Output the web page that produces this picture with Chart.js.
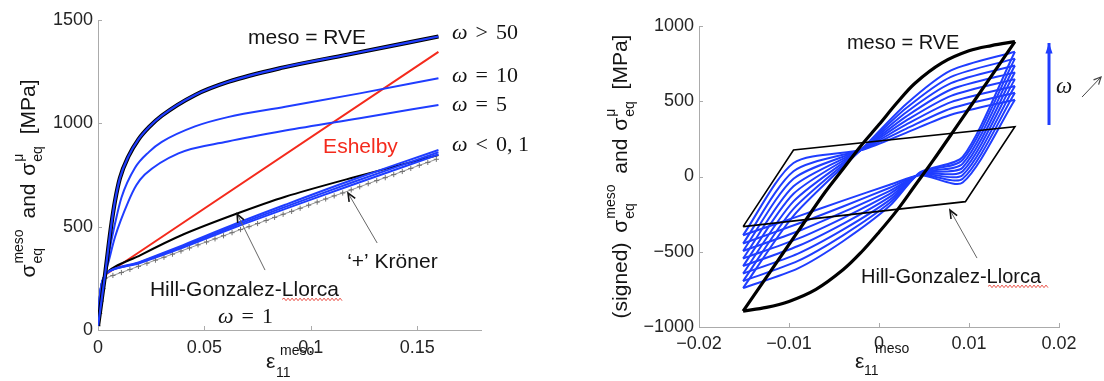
<!DOCTYPE html>
<html><head><meta charset="utf-8">
<script src="https://cdn.jsdelivr.net/npm/chart.js@4.4.0/dist/chart.umd.min.js"></script>
<style>
html,body{margin:0;padding:0;background:#fff;overflow:hidden;}
#wrap{position:relative;width:1104px;height:381px;overflow:hidden;background:#fff;}
.c{position:absolute;top:0;width:552px;height:381px;}
</style></head><body>
<div id="wrap">
<div class="c" style="left:0"><canvas id="cL" width="552" height="381"></canvas></div>
<div class="c" style="left:552px"><canvas id="cR" width="552" height="381"></canvas></div>
</div>
<script>
// ---------------- LEFT PANEL DATA (strain eps11, stress MPa) ----------------
const xTicksL = [0, 0.05, 0.1, 0.15];
const xTickLabelsL = ['0', '0.05', '0.1', '0.15'];
const yTicksL = [0, 500, 1000, 1500];
const yTickLabelsL = ['0', '500', '1000', '1500'];

const rveLX = [0, 0.0033, 0.005, 0.0064, 0.008, 0.0103, 0.0143, 0.019, 0.024, 0.030, 0.0456, 0.0613, 0.087, 0.117, 0.16];
const rveLY = [20, 266, 410, 520, 625, 735, 840, 922, 982, 1037, 1137, 1201, 1270, 1332, 1420];
const w10X = [0, 0.0033, 0.005, 0.008, 0.011, 0.0174, 0.024, 0.030, 0.0456, 0.061, 0.088, 0.123, 0.16];
const w10Y = [20, 266, 365, 515, 640, 785, 862, 910, 985, 1030, 1080, 1145, 1218];
const w5X = [0, 0.0033, 0.005, 0.008, 0.0143, 0.018, 0.022, 0.0378, 0.061, 0.088, 0.123, 0.16];
const w5Y = [20, 266, 332, 450, 622, 700, 752, 855, 912, 965, 1025, 1089];
const eshX = [0, 0.0033, 0.16];
const eshY = [20, 266, 1346];
const lowX = [0, 0.0033, 0.02, 0.04, 0.0644, 0.088, 0.12, 0.16];
const hglLY = [20, 266, 362, 462, 560, 645, 738, 847];
const wSmallY = [20, 266, 331, 411, 513, 606, 728, 871];
const wHalfY = [20, 266, 328, 405, 505, 596, 716, 860];
const w1Y = [20, 266, 325, 399, 497, 586, 704, 849];
const kronX = [0, 0.0008, 0.0016, 0.0024, 0.0033, 0.007, 0.011, 0.015, 0.019, 0.023, 0.027, 0.031, 0.035, 0.039, 0.043, 0.047, 0.051, 0.055, 0.059, 0.063, 0.067, 0.071, 0.075, 0.079, 0.083, 0.087, 0.091, 0.095, 0.099, 0.103, 0.107, 0.111, 0.115, 0.119, 0.123, 0.127, 0.131, 0.135, 0.139, 0.143, 0.147, 0.151, 0.155, 0.159];
const kronY = [20, 80, 140, 200, 250, 264, 278, 293, 308, 323, 338, 352, 367, 382, 397, 412, 426, 441, 456, 471, 486, 500, 515, 530, 545, 560, 574, 589, 604, 619, 634, 649, 663, 678, 693, 708, 723, 737, 752, 767, 782, 797, 811, 826];

// ---------------- RIGHT PANEL DATA ----------------
const xTicksR = [-0.02, -0.01, 0, 0.01, 0.02];
const xTickLabelsR = ['\u22120.02', '\u22120.01', '0', '0.01', '0.02'];
const yTicksR = [-1000, -500, 0, 500, 1000];
const yTickLabelsR = ['\u22121000', '\u2212500', '0', '500', '1000'];

const rveUpX = [-0.0151, -0.012, -0.009, -0.006, -0.004, -0.002, 0, 0.002, 0.004, 0.007, 0.010, 0.0125, 0.0151];
const rveUpY = [-894, -625, -365, -105, 50, 205, 345, 490, 620, 755, 835, 870, 896];
const rveLoX = [0.0151, 0.012, 0.009, 0.006, 0.004, 0.002, 0, -0.002, -0.004, -0.007, -0.010, -0.0125, -0.0151];
const rveLoY = [896, 625, 365, 105, -60, -225, -370, -505, -620, -750, -830, -870, -894];
const hglRX = [-0.0151, -0.0095, 0.0151, 0.0096, -0.0151];
const hglRY = [-333, 176, 331, -167, -333];

const blueUpX = [-0.0151, -0.0095, -0.0017, 0.003, 0.008, 0.0151];
const blueUpY = [
  [-390, 90, 180, 290, 410, 510],
  [-445, 35, 183, 317, 452, 556],
  [-495, -15, 185, 344, 494, 601],
  [-545, -65, 187, 371, 536, 647],
  [-595, -115, 189, 398, 578, 692],
  [-645, -165, 191, 425, 620, 738],
  [-695, -215, 193, 453, 662, 783],
  [-741, -261, 195, 480, 705, 829]
];
const blueLoX = [0.0151, 0.0093, 0.0046, 0.0012, -0.004, -0.009, -0.0151];
const blueLoY = [
  [510, -40, 8, -55, -160, -265, -390],
  [556, -15, 11, -75, -199, -314, -445],
  [601, 10, 14, -95, -237, -364, -495],
  [647, 35, 17, -115, -276, -413, -545],
  [692, 60, 20, -135, -314, -462, -595],
  [738, 85, 23, -155, -353, -512, -645],
  [783, 110, 26, -175, -391, -561, -695],
  [829, 130, 29, -195, -430, -610, -741]
];

// ---------------- STYLE ----------------
const SANS = '"Liberation Sans", Arial, Helvetica, sans-serif';
const SERIF = '"Liberation Serif", "Times New Roman", serif';
const BLUE = '#1f3dff';
const RED = '#f42a1c';
const AXIS = '#ababab';

function pts(xs, ys) { return xs.map((x, i) => ({x: x, y: ys[i]})); }
function line(xs, ys, color, width, order, tension, extra) {
  return Object.assign({data: pts(xs, ys), showLine: true, borderColor: color, backgroundColor: color,
    borderWidth: width, pointRadius: 0, tension: tension || 0, order: order, fill: false}, extra || {});
}

function segW(ctx, s) {
  ctx.font = s.f;
  const w = s.sup !== undefined ? Math.max(ctx.measureText(s.sup).width, ctx.measureText(s.sub).width)
                                : ctx.measureText(s.t).width;
  return w + (s.pre || 0);
}
function drawRich(ctx, x, y, segs, align) {
  const w = segs.reduce((a, s) => a + segW(ctx, s), 0);
  let cx = align === 'center' ? x - w / 2 : (align === 'right' ? x - w : x);
  ctx.textAlign = 'left'; ctx.textBaseline = 'middle';
  segs.forEach(s => {
    const sw = segW(ctx, s);
    cx += (s.pre || 0);
    ctx.font = s.f; ctx.fillStyle = s.c || '#141414';
    if (s.sup !== undefined) { ctx.fillText(s.sup, cx, y + s.up); ctx.fillText(s.sub, cx, y + s.down); }
    else ctx.fillText(s.t, cx, y + (s.dy || 0));
    cx += sw - (s.pre || 0);
  });
}
function drawArrow(ctx, x1, y1, x2, y2, a) {
  ctx.save();
  ctx.strokeStyle = a.color; ctx.fillStyle = a.color; ctx.lineWidth = a.width;
  ctx.beginPath(); ctx.moveTo(x1, y1); ctx.lineTo(x2, y2); ctx.stroke();
  const ang = Math.atan2(y2 - y1, x2 - x1), L = a.head, sp = a.spread;
  ctx.strokeStyle = a.headColor || a.color; ctx.lineWidth = a.headWidth || a.width;
  ctx.beginPath();
  ctx.moveTo(x2 - L * Math.cos(ang - sp), y2 - L * Math.sin(ang - sp));
  ctx.lineTo(x2, y2);
  ctx.lineTo(x2 - L * Math.cos(ang + sp), y2 - L * Math.sin(ang + sp));
  if (a.filled) { ctx.closePath(); ctx.fill(); } else ctx.stroke();
  ctx.restore();
}
function drawWave(ctx, x1, x2, y) {
  ctx.save(); ctx.strokeStyle = '#e8443a'; ctx.lineWidth = 0.9;
  ctx.beginPath(); let up = true; ctx.moveTo(x1, y);
  for (let x = x1 + 2; x <= x2; x += 2) { ctx.lineTo(x, y + (up ? -1.3 : 1.3)); up = !up; }
  ctx.stroke(); ctx.restore();
}

function makeDecor(cfg) {
  return {
    id: 'decor',
    afterDraw(chart) {
      const ctx = chart.ctx, xs = chart.scales.x, ys = chart.scales.y, ca = chart.chartArea;
      const X = v => xs.getPixelForValue(v), Y = v => ys.getPixelForValue(v);
      ctx.save();
      ctx.strokeStyle = AXIS; ctx.lineWidth = 1;
      xs.ticks.forEach(t => { const p = Math.round(X(t.value)) + 0.5; ctx.beginPath(); ctx.moveTo(p, ca.bottom); ctx.lineTo(p, ca.bottom - 4); ctx.stroke(); });
      ys.ticks.forEach(t => { const p = Math.round(Y(t.value)) + 0.5; ctx.beginPath(); ctx.moveTo(ca.left, p); ctx.lineTo(ca.left + 4, p); ctx.stroke(); });
      cfg.arrows.forEach(a => drawArrow(ctx, X(a.x1), Y(a.y1), X(a.x2), Y(a.y2), a));
      cfg.waves.forEach(w => drawWave(ctx, X(w.x1), X(w.x2), Y(w.y)));
      cfg.labels.forEach(l => drawRich(ctx, X(l.x), Y(l.y), l.segs, 'left'));
      const yt = cfg.yTitle;
      ctx.save(); ctx.translate(ca.left + yt.dx, (ca.top + ca.bottom) / 2 + yt.dy); ctx.rotate(-Math.PI / 2);
      drawRich(ctx, 0, 0, yt.segs, 'center'); ctx.restore();
      const xt = cfg.xTitle, bx = ca.left + xt.dx, by = ca.bottom + xt.dy;
      ctx.fillStyle = '#141414'; ctx.textAlign = 'left'; ctx.textBaseline = 'middle';
      ctx.font = '21px ' + SANS; ctx.fillText('\u03b5', bx, by);
      ctx.font = '14px ' + SANS; ctx.fillText('meso', bx + xt.supDx, by + xt.supDy);
      ctx.fillText('11', bx + xt.subDx, by + xt.subDy);
      ctx.restore();
    }
  };
}

const F21 = '21px ' + SANS, F20 = '20px ' + SANS, F14 = '14px ' + SANS;
function omega(rel, num, size) {
  return [{t: '\u03c9', f: 'italic ' + size + 'px ' + SERIF},
          {t: rel, f: size + 'px ' + SERIF, pre: 8},
          {t: num, f: size + 'px ' + SERIF, pre: 8}];
}
function yTitleSegs(prefix) {
  const s = [];
  if (prefix) s.push({t: prefix, f: F21});
  s.push({t: '\u03c3', f: F21, pre: prefix ? 4 : 0});
  s.push({sup: 'meso', sub: 'eq', f: F14, up: -10, down: 9, pre: 1});
  s.push({t: ' and ', f: F21, pre: 5});
  s.push({t: '\u03c3', f: F21, pre: 2});
  s.push({sup: '\u03bc', sub: 'eq', f: F14, up: -10, down: 9, pre: 1});
  s.push({t: ' [MPa]', f: F21, pre: 6});
  return s;
}

function axisOpts(min, max, ticks, labels, fitProp, fitVal, pad) {
  return {
    type: 'linear', min: min, max: max,
    afterFit: s => { s[fitProp] = fitVal; },
    afterBuildTicks: s => { s.ticks = ticks.map(v => ({value: v})); },
    ticks: {callback: (v, i) => labels[i], font: {family: SANS, size: 18}, color: '#242424',
            padding: pad, autoSkip: false, maxRotation: 0, minRotation: 0},
    grid: {display: false, drawTicks: false},
    border: {display: true, color: AXIS, width: 1}
  };
}

// ---------------- LEFT CHART ----------------
const leftDecor = makeDecor({
  labels: [
    {x: 0.0705, y: 1413, segs: [{t: 'meso = RVE', f: F21}]},
    {x: 0.1664, y: 1437, segs: omega('>', '50', 22)},
    {x: 0.1664, y: 1229, segs: omega('=', '10', 22)},
    {x: 0.1664, y: 1089, segs: omega('=', '5', 22)},
    {x: 0.1664, y: 895, segs: omega('<', '0, 1', 22)},
    {x: 0.1058, y: 885, segs: [{t: 'Eshelby', f: F21, c: RED}]},
    {x: 0.1171, y: 329, segs: [{t: '\u2018+\u2019 Kr\u00f6ner', f: F21}]},
    {x: 0.0244, y: 194, segs: [{t: 'Hill-Gonzalez-Llorca', f: F21}]},
    {x: 0.0564, y: 63, segs: omega('=', '1', 22)}
  ],
  arrows: [
    {x1: 0.0785, y1: 290, x2: 0.0654, y2: 561, color: '#666', width: 1, head: 9, spread: 0.4, headColor: '#111', headWidth: 1.6},
    {x1: 0.1312, y1: 421, x2: 0.1175, y2: 663, color: '#666', width: 1, head: 9, spread: 0.4, headColor: '#111', headWidth: 1.6}
  ],
  waves: [{x1: 0.0865, x2: 0.1147, y: 148}],
  yTitle: {dx: -69, dy: 3.5, segs: yTitleSegs('')},
  xTitle: {dx: 168, dy: 32, supDx: 14, supDy: -11, subDx: 10, subDy: 11}
});

new Chart(document.getElementById('cL'), {
  type: 'scatter',
  data: {datasets: [
    line(kronX, kronY, '#959595', 1, 9, 0, {pointRadius: 2.6, pointStyle: 'cross', pointBorderColor: '#707070', pointBorderWidth: 1}),
    line(eshX, eshY, RED, 2, 8),
    line(lowX, hglLY, '#000', 2, 7, 0.3),
    line(lowX, w1Y, BLUE, 2, 6, 0.3),
    line(lowX, wHalfY, BLUE, 2, 5, 0.3),
    line(lowX, wSmallY, BLUE, 2, 4, 0.3),
    line(w5X, w5Y, BLUE, 2, 3, 0, {cubicInterpolationMode: 'monotone'}),
    line(w10X, w10Y, BLUE, 2, 2, 0, {cubicInterpolationMode: 'monotone'}),
    line(rveLX, rveLY, '#000', 4.2, 1, 0, {cubicInterpolationMode: 'monotone'}),
    line(rveLX, rveLY, BLUE, 2.2, 0, 0, {cubicInterpolationMode: 'monotone'})
  ]},
  options: {
    responsive: false, animation: false, events: [],
    layout: {padding: {left: 0, right: 71, top: 20, bottom: 0}},
    plugins: {legend: {display: false}, tooltip: {enabled: false}},
    scales: {
      x: axisOpts(0, 0.18, xTicksL, xTickLabelsL, 'height', 51, 7),
      y: axisOpts(0, 1500, yTicksL, yTickLabelsL, 'width', 98, 5)
    }
  },
  plugins: [leftDecor]
});

// ---------------- RIGHT CHART ----------------
const rightDs = [];
blueUpY.forEach((ys, i) => rightDs.push(line(blueUpX, ys, BLUE, 2, 10 + i, 0.25)));
blueLoY.forEach((ys, i) => rightDs.push(line(blueLoX, ys, BLUE, 2, 20 + i, 0.25)));
rightDs.push(line(hglRX, hglRY, '#000', 1.6, 2, 0));
rightDs.push(line(rveUpX, rveUpY, '#000', 3.2, 1, 0.35));
rightDs.push(line(rveLoX, rveLoY, '#000', 3.2, 0, 0.35));

const rightDecor = makeDecor({
  labels: [
    {x: -0.00356, y: 887, segs: [{t: 'meso = RVE', f: F20}]},
    {x: -0.002, y: -668, segs: [{t: 'Hill-Gonzalez-Llorca', f: F20}]},
    {x: 0.01967, y: 595, segs: [{t: '\u03c9', f: 'italic 23px ' + SERIF}]}
  ],
  arrows: [
    {x1: 0.01089, y1: -542, x2: 0.00789, y2: -223, color: '#666', width: 1, head: 9, spread: 0.4, headColor: '#111', headWidth: 1.6},
    {x1: 0.01889, y1: 342, x2: 0.01889, y2: 887, color: BLUE, width: 3, head: 11, spread: 0.33, filled: true},
    {x1: 0.02256, y1: 528, x2: 0.02467, y2: 661, color: '#444', width: 1, head: 8, spread: 0.45, headWidth: 1.2}
  ],
  waves: [{x1: 0.01211, x2: 0.01878, y: -730}],
  yTitle: {dx: -78, dy: 0, segs: yTitleSegs('(signed) ')},
  xTitle: {dx: 156, dy: 35, supDx: 20, supDy: -13, subDx: 9, subDy: 9}
});

new Chart(document.getElementById('cR'), {
  type: 'scatter',
  data: {datasets: rightDs},
  options: {
    responsive: false, animation: false, events: [],
    layout: {padding: {left: 0, right: 45, top: 26, bottom: 0}},
    plugins: {legend: {display: false}, tooltip: {enabled: false}},
    scales: {
      x: axisOpts(-0.02, 0.02, xTicksR, xTickLabelsR, 'height', 54, 6),
      y: axisOpts(-1000, 1000, yTicksR, yTickLabelsR, 'width', 147, 5)
    }
  },
  plugins: [rightDecor]
});
</script>
</body></html>
